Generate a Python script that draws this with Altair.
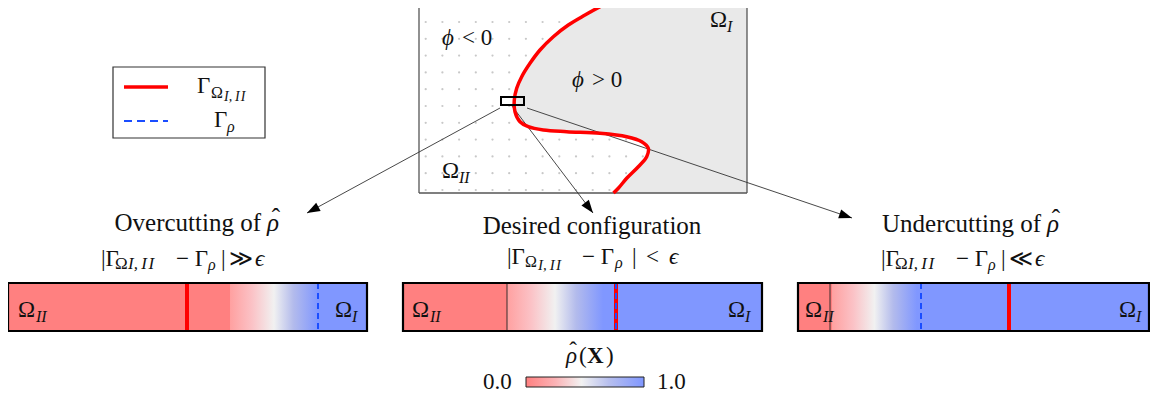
import altair as alt
import pandas as pd
import numpy as np

# ---------------- data ----------------
# interface curve Gamma_{Omega I,II} inside the domain box (pixel-like coordinates)
curve_x = [613.3, 600, 585, 568.3, 553.3, 540, 530, 521.7, 516.7, 514.3, 515, 520, 528.3,
           543.3, 566.7, 600, 626.7, 641.7, 648.3, 646.7, 638.3, 626.7, 618.3, 613.5]
curve_y = [0, 6.7, 15, 25, 36.7, 50, 63.3, 76.7, 88.3, 100, 111.7, 121.7, 126.7,
           130, 131.7, 133.3, 136.7, 141.7, 148.3, 156.7, 166.7, 178.3, 188.3, 193]

box_left, box_right, box_bottom, box_top = 419, 747, 193, 0

# zoom rectangle
zoom_box = dict(x0=[501], x1=[524], y0=[97], y1=[105])

# arrows: start -> tip
arrow_x0 = [500, 512, 527]
arrow_y0 = [108, 106, 108]
arrow_x1 = [307, 593, 852]
arrow_y1 = [213, 213, 218]

# three 1-D strips
bar_left = [8, 403, 798]
bar_right = [367, 762, 1149]
bar_red_end = [230, 507, 832]
bar_grad_end = [318, 603, 917]
gamma_pos = [187, 616, 1009]
rho_pos = [318, 616, 921]
edge_line = [507, 830]
bar_top, bar_bottom = 283, 331

red_fill = "#ff8080"
blue_fill = "#8097ff"
strip_stops = [(0.0, "#ffa0a0"), (0.25, "#fbc2c6"), (0.5, "#f1f1f1"), (0.72, "#b3bbec"), (1.0, blue_fill)]
cbar_stops = [(0.0, red_fill), (0.25, "#fbb3b6"), (0.47, "#f2f2f2"), (0.7, "#b7bfee"), (1.0, blue_fill)]

# colour bar
cbar = dict(x0=[526], x1=[644], y0=[377], y1=[387])

# legend
legend_box = dict(x0=[113], x1=[265], y0=[67], y1=[138])
leg_x0, leg_x1 = 124, 168
leg_y = [87, 121]

# text pieces: (text, x, baseline y, font size, style)
#   style: n normal-left, i italic-left, b bold-left, r normal-right, c normal-center
pieces = []
def add(t, x, y, s=23, st="n"):
    pieces.append((t, x, y, s, st))

SUBII = "I,\u2009I\u200aI"
HAT = "\u02c6"

# titles
add("Overcutting of", 261, 231, 25, "r"); add("ρ", 267, 231, 25, "i"); add(HAT, 276, 226, 25, "c")
add("Desired configuration", 592, 234, 25, "c")
add("Undercutting of", 1041, 232, 25, "r"); add("ρ", 1047, 232, 25, "i"); add(HAT, 1056, 227, 25, "c")
# top domain labels
add("ϕ", 442, 45, 23, "i"); add("< 0", 462, 45)
add("ϕ", 572, 87, 23, "i"); add("> 0", 592, 87)
add("Ω", 710, 27); add("I", 727, 32, 16, "i")
add("Ω", 442, 178); add("II", 459, 183, 16, "i")
# legend labels
add("Γ", 197, 93); add("Ω", 211, 98, 16); add(SUBII, 224, 101, 14, "i")
add("Γ", 214, 127); add("ρ", 227, 132, 16, "i")
# strip labels
for xl, xr in zip([18, 412, 805], [335, 728, 1119]):
    add("Ω", xl, 317); add("II", xl + 18, 322, 16, "i")
    add("Ω", xr, 317); add("I", xr + 17, 322, 16, "i")
# condition lines
# overcutting
add("|Γ", 101, 266); add("Ω", 115, 269, 17); add(SUBII, 128, 269, 17, "i")
add("− Γ", 176, 266); add("ρ", 208, 270, 16, "i")
add("|", 221, 266); add("≫", 229, 266); add("ϵ", 255, 266, 23, "i")
# desired
add("|Γ", 507, 264); add("Ω", 525, 267, 16); add(SUBII, 538, 270, 15, "i")
add("− Γ", 582, 264); add("ρ", 615, 268, 16, "i")
add("|", 632, 264); add("<", 646, 264); add("ϵ", 669, 264, 23, "i")
# undercutting
add("|Γ", 881, 266); add("Ω", 895, 269, 17); add(SUBII, 908, 269, 17, "i")
add("− Γ", 956, 266); add("ρ", 988, 270, 16, "i")
add("|", 1001, 266); add("≪", 1009, 266); add("ϵ", 1035, 266, 23, "i")
# colour bar labels
add("ρ", 566, 363, 23, "i"); add(HAT, 573, 358, 23, "c")
add("(", 579, 363); add("X", 587, 363, 23, "b"); add(")", 606, 363)
add("0.0", 483, 389); add("1.0", 657, 389)

# ---------------- helpers ----------------
xs = alt.Scale(domain=[8, 1150], nice=False, zero=False)
ys = alt.Scale(domain=[8, 394], nice=False, zero=False, reverse=True)

def X(f):
    return alt.X(f"{f}:Q", scale=xs, axis=None)

def Y(f):
    return alt.Y(f"{f}:Q", scale=ys, axis=None)

def grad(stops):
    return alt.LinearGradient(gradient="linear", x1=0, x2=1, y1=0, y2=0,
                              stops=[alt.GradientStop(offset=o, color=c) for o, c in stops])

layers = []

# dotted texture of phi<0 region
gx = np.arange(425.7, box_right, 16.7)
gy = np.arange(5.2, box_bottom, 16.8)
dots = pd.DataFrame([(a, b) for a in gx for b in gy], columns=["x", "y"])
layers.append(alt.Chart(dots).mark_circle(size=5, color="#c8c8c8", opacity=1).encode(x=X("x"), y=Y("y")))

# phi>0 grey region
cdf = pd.DataFrame({"cx": curve_x, "cy": curve_y, "i": range(len(curve_x))})
cdf["xr"] = box_right
layers.append(alt.Chart(cdf).mark_area(orient="horizontal", color="#e9e9e9", opacity=1,
                                       interpolate="catmull-rom")
              .encode(x=X("cx"), x2=alt.X2("xr"), y=Y("cy")))

# domain box
bdf = pd.DataFrame({"x0": [box_left, box_right, box_left], "x1": [box_left, box_right, box_right],
                    "y0": [box_top, box_top, box_bottom], "y1": [box_bottom, box_bottom, box_bottom]})
layers.append(alt.Chart(bdf).mark_rule(color="#555555", strokeWidth=1.3)
              .encode(x=X("x0"), x2=alt.X2("x1"), y=Y("y0"), y2=alt.Y2("y1")))

# arrows lines
adf = pd.DataFrame({"x0": arrow_x0, "y0": arrow_y0, "x1": arrow_x1, "y1": arrow_y1})
layers.append(alt.Chart(adf).mark_rule(color="#333333", strokeWidth=0.9)
              .encode(x=X("x0"), x2=alt.X2("x1"), y=Y("y0"), y2=alt.Y2("y1")))

# interface curve
layers.append(alt.Chart(cdf).mark_line(color="#ff0000", strokeWidth=3.5, interpolate="catmull-rom")
              .encode(x=X("cx"), y=Y("cy"), order=alt.Order("i:Q")))

# zoom rectangle
layers.append(alt.Chart(pd.DataFrame(zoom_box)).mark_rect(fillOpacity=0, stroke="black", strokeWidth=2)
              .encode(x=X("x0"), x2=alt.X2("x1"), y=Y("y0"), y2=alt.Y2("y1")))

# arrow heads
dx = adf["x1"] - adf["x0"]
dy = adf["y1"] - adf["y0"]
ln = np.sqrt(dx ** 2 + dy ** 2)
hd = pd.DataFrame({"x": adf["x1"] - 6.5 * dx / ln, "y": adf["y1"] - 6.5 * dy / ln,
                   "ang": (np.degrees(np.arctan2(dx, -dy)) + 360) % 360})
layers.append(alt.Chart(hd).mark_point(shape="M0,-1L0.72,1L-0.72,1Z", filled=True, color="black",
                                       opacity=1, size=169, strokeWidth=0)
              .encode(x=X("x"), y=Y("y"), angle=alt.Angle("ang:Q", scale=None)))

# legend
layers.append(alt.Chart(pd.DataFrame(legend_box)).mark_rect(fill="white", stroke="#333333", strokeWidth=1.2)
              .encode(x=X("x0"), x2=alt.X2("x1"), y=Y("y0"), y2=alt.Y2("y1")))
ldf = pd.DataFrame({"x0": [leg_x0], "x1": [leg_x1], "y": [leg_y[0]]})
layers.append(alt.Chart(ldf).mark_rule(color="#ff0000", strokeWidth=3.5)
              .encode(x=X("x0"), x2=alt.X2("x1"), y=Y("y")))
ldf2 = pd.DataFrame({"x0": [leg_x0], "x1": [leg_x1], "y": [leg_y[1]]})
layers.append(alt.Chart(ldf2).mark_rule(color="#1a4dff", strokeWidth=2, strokeDash=[8, 5])
              .encode(x=X("x0"), x2=alt.X2("x1"), y=Y("y")))

# strips: solid parts
solid = pd.DataFrame({
    "x0": bar_left + bar_grad_end,
    "x1": bar_red_end + bar_right,
    "c": [red_fill] * 3 + [blue_fill] * 3,
})
solid["t"] = bar_top
solid["b"] = bar_bottom
layers.append(alt.Chart(solid).mark_rect().encode(x=X("x0"), x2=alt.X2("x1"), y=Y("t"), y2=alt.Y2("b"),
                                                  color=alt.Color("c:N", scale=None)))
# strips: gradient parts
for a, b in zip(bar_red_end, bar_grad_end):
    g = pd.DataFrame({"x0": [a], "x1": [b], "t": [bar_top], "b": [bar_bottom]})
    layers.append(alt.Chart(g).mark_rect(color=grad(strip_stops))
                  .encode(x=X("x0"), x2=alt.X2("x1"), y=Y("t"), y2=alt.Y2("b")))
# thin edge lines
edf = pd.DataFrame({"x": edge_line, "t": bar_top, "b": bar_bottom})
layers.append(alt.Chart(edf).mark_rule(color="#222222", strokeWidth=0.9)
              .encode(x=X("x"), y=Y("t"), y2=alt.Y2("b")))
# gamma (red) and rho (blue dashed) lines
gdf = pd.DataFrame({"x": gamma_pos, "t": bar_top, "b": bar_bottom})
layers.append(alt.Chart(gdf).mark_rule(color="#ff0000", strokeWidth=4)
              .encode(x=X("x"), y=Y("t"), y2=alt.Y2("b")))
rdf = pd.DataFrame({"x": rho_pos, "t": bar_top, "b": bar_bottom})
layers.append(alt.Chart(rdf).mark_rule(color="#1a4dff", strokeWidth=2, strokeDash=[6, 4])
              .encode(x=X("x"), y=Y("t"), y2=alt.Y2("b")))
# strip borders
sdf = pd.DataFrame({"x0": bar_left, "x1": bar_right, "t": bar_top, "b": bar_bottom})
layers.append(alt.Chart(sdf).mark_rect(fillOpacity=0, stroke="black", strokeWidth=2.2)
              .encode(x=X("x0"), x2=alt.X2("x1"), y=Y("t"), y2=alt.Y2("b")))

# colour bar
layers.append(alt.Chart(pd.DataFrame(cbar)).mark_rect(color=grad(cbar_stops))
              .encode(x=X("x0"), x2=alt.X2("x1"), y=Y("y0"), y2=alt.Y2("y1")))
layers.append(alt.Chart(pd.DataFrame(cbar)).mark_rect(fillOpacity=0, stroke="#222222", strokeWidth=1)
              .encode(x=X("x0"), x2=alt.X2("x1"), y=Y("y0"), y2=alt.Y2("y1")))

# text pieces
pdf = pd.DataFrame(pieces, columns=["t", "x", "y", "s", "st"])
style_map = {
    "n": dict(align="left"),
    "i": dict(align="left", fontStyle="italic"),
    "b": dict(align="left", fontWeight="bold"),
    "r": dict(align="right"),
    "c": dict(align="center"),
}
for st, kw in style_map.items():
    sub = pdf[pdf["st"] == st]
    layers.append(alt.Chart(sub).mark_text(font="Liberation Serif", baseline="alphabetic",
                                           color="#111111", **kw)
                  .encode(x=X("x"), y=Y("y"), text="t:N", size=alt.Size("s:Q", scale=None)))

chart = alt.layer(*layers).properties(width=1142, height=386, padding=0,
                                      autosize=alt.AutoSizeParams(type="none")) \
    .configure_view(strokeWidth=0)

chart.save("out.html", embed_options={"renderer": "svg", "actions": False})
